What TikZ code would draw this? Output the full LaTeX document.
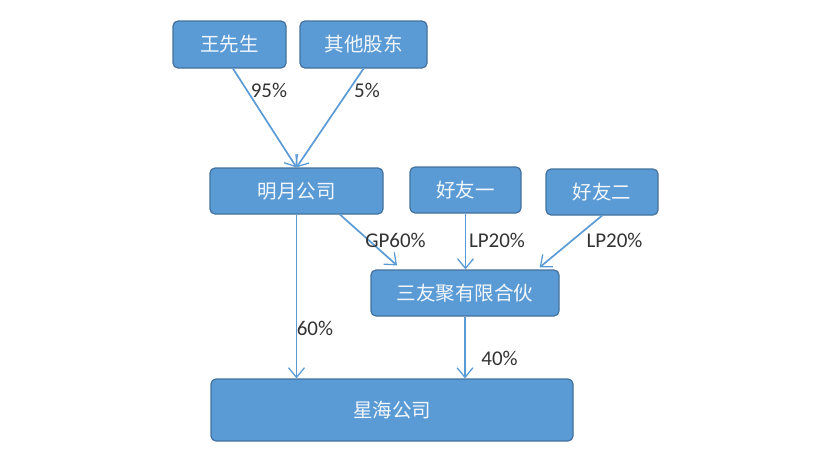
\documentclass[tikz,border=0pt]{standalone}
\usepackage{fontspec}
\setmainfont{Carlito}
\newfontfamily\cjk{Noto Sans CJK SC}
\usetikzlibrary{arrows.meta}
\definecolor{boxblue}{HTML}{5B9BD5}
\definecolor{boxedge}{HTML}{41719C}
\definecolor{labelgray}{HTML}{333333}

\begin{document}
\begin{tikzpicture}[x=1pt,y=-1pt,font=\fontsize{21}{24}\selectfont,
  >={Straight Barb[length=3.4mm,width=5.6mm,line width=1.3pt]},
  box/.style={draw=boxedge,line width=1.2pt,fill=boxblue,rounded corners=5pt,
    text=white!92!boxblue,font=\cjk\fontsize{19.5}{22}\selectfont,inner sep=0pt},
  link/.style={->,draw=boxblue,line width=1.7pt},
  pct/.style={text=labelgray,inner sep=0pt}]
\useasboundingbox (0,0) rectangle (831,464);
% shareholders of the top company
\node[box,minimum width=113pt,minimum height=47pt] (wang) at (229.5,44.5) {王先生};
\node[box,minimum width=127pt,minimum height=47pt] (qita) at (363.5,44.5) {其他股东};
% second row
\node[box,minimum width=173pt,minimum height=46pt] (mingyue) at (296.5,191) {明月公司};
\node[box,minimum width=111pt,minimum height=46pt] (friend1) at (465.5,190) {好友一};
\node[box,minimum width=112pt,minimum height=46pt] (friend2) at (602,192) {好友二};
% partnership and target
\node[box,minimum width=188pt,minimum height=46pt] (sanyou) at (465,293) {三友聚有限合伙};
\node[box,minimum width=362pt,minimum height=62pt] (xinghai) at (392,410) {星海公司};
% holdings
\draw[link] ([xshift=3.5pt]wang.south) -- (mingyue.north);
\draw[link] (qita.south) -- (mingyue.north);
\draw[link] ([xshift=43.5pt]mingyue.south) -- ([xshift=-68pt,yshift=4pt]sanyou.north);
\draw[link] (friend1.south) -- (friend1.south |- sanyou.north);
\draw[link] (friend2.south) -- ([xshift=-20pt,yshift=2pt]sanyou.north east);
\draw[link] (mingyue.south) -- (mingyue.south |- xinghai.north);
\draw[link] (sanyou.south) -- (sanyou.south |- xinghai.north);
% percentages
\node[pct] (p95) at (269,90) {95\%};
\node[pct] (p5) at (367,90) {5\%};
\node[pct] (gp60) at (395.5,240) {GP60\%};
\node[pct] (lp20a) at (497,240) {LP20\%};
\node[pct] (lp20b) at (614.5,240) {LP20\%};
\node[pct] (p60) at (315,328) {60\%};
\node[pct] (p40) at (499.5,358) {40\%};
\end{tikzpicture}
\end{document}
